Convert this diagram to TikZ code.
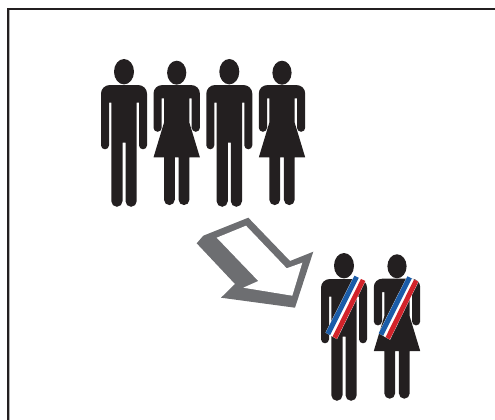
\documentclass[tikz,border=0pt]{standalone}
\usepackage{xcolor}
\definecolor{figink}{HTML}{231F20}
\definecolor{arrowgray}{HTML}{6D6E71}
\definecolor{sashblue}{HTML}{1B5CA8}
\definecolor{sashred}{HTML}{D2232A}
\tikzset{
  figure/.style = {fill=figink, draw=none},
  frameline/.style = {draw=figink, line width=2.3pt},
  frameedge/.style = {draw=black!30, line width=.8pt},
  man/.pic = {
    \fill[figure] (0,0) ellipse [x radius=10, y radius=12.7];
    \fill[figure] (-14,13.3) -- (14,13.3) .. controls (19,13.3) and (23,17) .. (23,22)
      -- (23,73.6) arc [start angle=0, end angle=180, radius=4]
      -- (15,31) -- (12.7,31) -- (12.7,129.5) arc [start angle=0, end angle=180, radius=5.6]
      -- (1.5,71) -- (-1.5,71) -- (-1.5,129.5) arc [start angle=0, end angle=180, radius=5.6]
      -- (-12.7,31) -- (-15,31) -- (-15,73.6) arc [start angle=0, end angle=180, radius=4]
      -- (-23,22) .. controls (-23,17) and (-19,13.3) .. (-14,13.3) -- cycle;
  },
  woman/.pic = {
    \fill[figure] (0,0) ellipse [x radius=9.6, y radius=12];
    \fill[figure] (-14,12.3) -- (14,12.3) .. controls (19.5,12.3) and (23.2,16) .. (23.2,21)
      -- (23.2,55) arc [start angle=0, end angle=180, radius=4.1]
      -- (15,25.7) -- (12.7,25.7) -- (12.7,50) -- (23.2,84.7) -- (12.7,84.7)
      -- (12.7,127) arc [start angle=0, end angle=180, radius=5.4]
      -- (1.9,84.7) -- (-1.9,84.7) -- (-1.9,127) arc [start angle=0, end angle=180, radius=5.4]
      -- (-12.7,84.7) -- (-23.2,84.7) -- (-12.7,50) -- (-12.7,25.7) -- (-15,25.7)
      -- (-15,55) arc [start angle=0, end angle=180, radius=4.1]
      -- (-23.2,21) .. controls (-23.2,16) and (-19.5,12.3) .. (-14,12.3) -- cycle;
  },
  sash/.pic = {
    \fill[white] (10.2,9.9) -- (21.5,15.4) -- (-7,73.5) -- (-18.5,66.9) -- cycle;
    \fill[sashblue] (10.4,10) -- (14.8,12.1) -- (-13.9,69.5) -- (-18.3,67) -- cycle;
    \fill[sashred] (17,13.2) -- (21.3,15.3) -- (-7.2,73.3) -- (-11.4,70.8) -- cycle;
  }
}
\begin{document}
\begin{tikzpicture}[x=1pt, y=-1pt]
\useasboundingbox (0,0) rectangle (495,420);

% frame
\draw[frameedge] (9.6,420) -- (9.6,10);
\draw[frameline] (7.9,420) -- (7.9,8.7) -- (495,8.7);

% crowd
\pic at (124,71.7)   {man};
\pic at (176.7,72.7) {woman};
\pic at (229.3,71.7) {man};
\pic at (282,72.7)   {woman};

% arrow
\fill[arrowgray] (248.3,217.7) -- (290,261) -- (313.3,251.7) -- (295,307.7)
  -- (221,297.7) -- (235,284) -- (196.7,243.3) -- (203.3,235.7) -- cycle;
\fill[white] (246,225.7) -- (286.7,268.3) -- (302.3,262.7) -- (292.3,295.7)
  -- (243.3,287.7) -- (258.3,281) -- (216.7,237.7) -- cycle;

% elected
\pic at (344,265.7) {man};
\pic at (344,265.7) {sash};
\pic at (397,266.3) {woman};
\pic at (397,266.3) {sash};
\end{tikzpicture}
\end{document}
